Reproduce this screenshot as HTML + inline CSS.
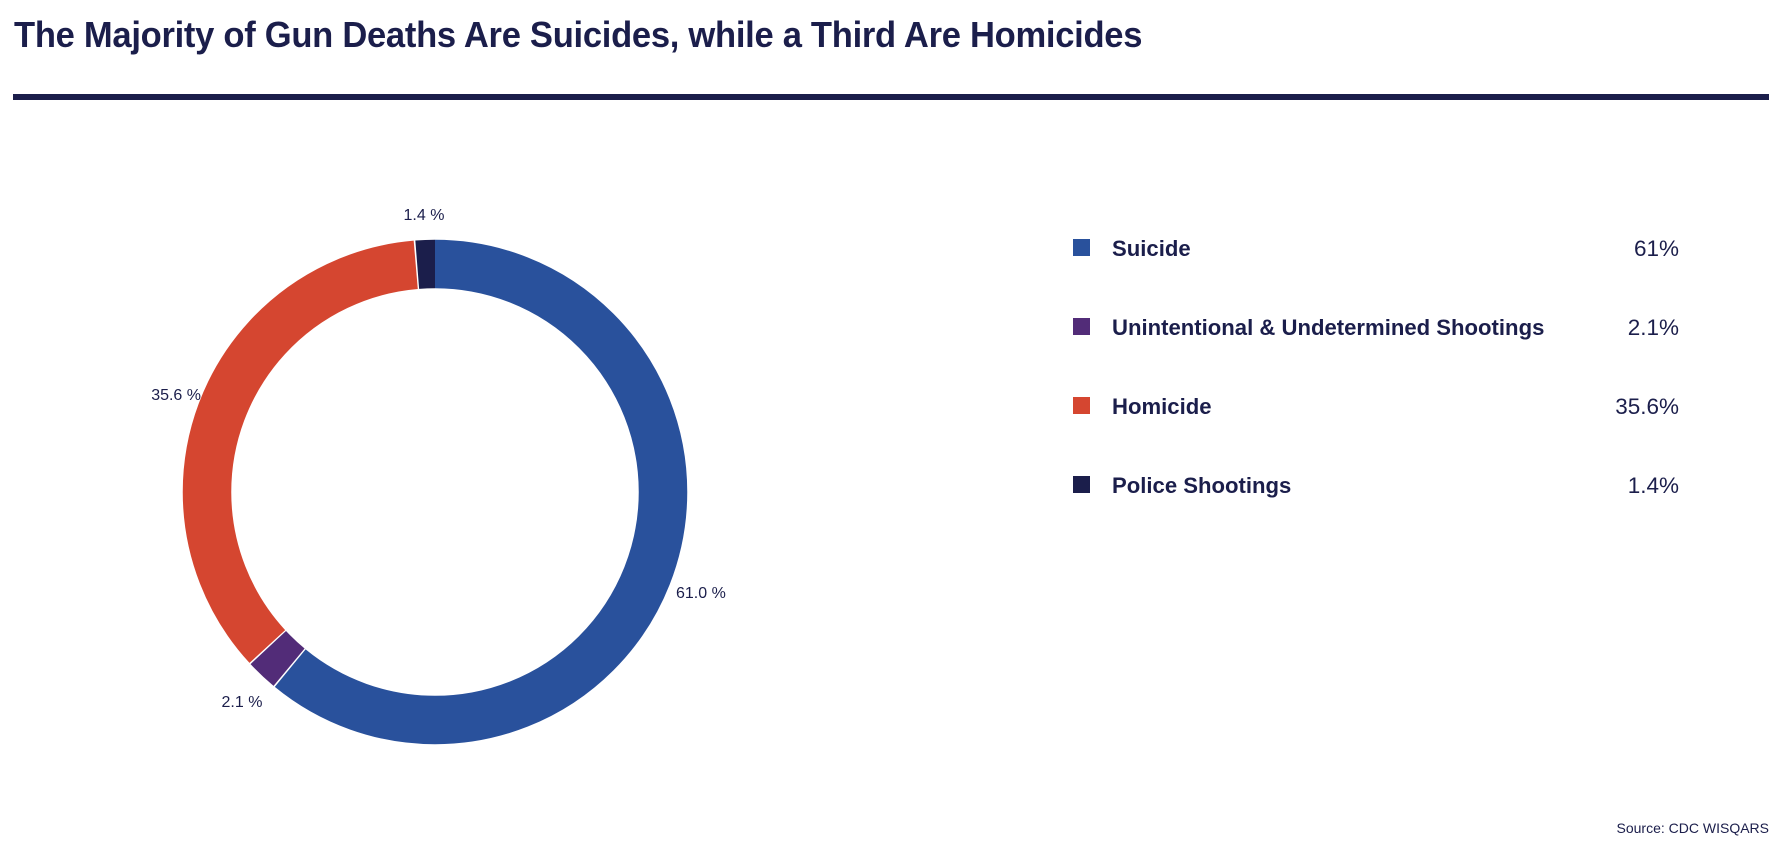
<!DOCTYPE html>
<html><head><meta charset="utf-8"><style>
html,body{margin:0;padding:0;background:#fff;width:1783px;height:862px;overflow:hidden;font-family:"Liberation Sans",sans-serif;color:#1b1e4b}
.t{position:absolute;left:14px;top:14px;font-size:36px;font-weight:bold;white-space:nowrap;transform-origin:0 0;transform:scaleX(0.96);letter-spacing:-0.3px}
.rule{position:absolute;left:13px;top:94px;width:1756px;height:6px;background:#1b1e4b}
.lg{position:absolute;left:1073px;width:606px;height:24px;font-size:22px;font-weight:bold}
.lg .sq{position:absolute;left:0;top:3px;width:17px;height:17px}
.lg .lb{position:absolute;left:39px;top:0;white-space:nowrap;transform-origin:0 0;transform:scaleX(1.005)}
.lg .v{position:absolute;right:0;top:0;font-weight:normal;font-size:22.5px}
.src{position:absolute;right:14px;top:820px;font-size:14px}
</style></head><body>
<div class="t">The Majority of Gun Deaths Are Suicides, while a Third Are Homicides</div>
<div class="rule"></div>
<svg width="1783" height="862" style="position:absolute;left:0;top:0">
<g transform="rotate(-90 435 492)" fill="none" stroke-width="48.5">
<circle cx="435" cy="492" r="228" stroke="#29519c" stroke-dasharray="873 2000" stroke-dashoffset="0"/>
<circle cx="435" cy="492" r="228" stroke="#522c78" stroke-dasharray="28.6 2000" stroke-dashoffset="-874.5"/>
<circle cx="435" cy="492" r="228" stroke="#d54630" stroke-dasharray="508.5 2000" stroke-dashoffset="-904.5"/>
<circle cx="435" cy="492" r="228" stroke="#1b1e4b" stroke-dasharray="18.6 2000" stroke-dashoffset="-1414.5"/>
</g>
<g font-size="16" fill="#1b1e4b" font-family="Liberation Sans, sans-serif">
<text x="424" y="220" text-anchor="middle">1.4 %</text>
<text x="201" y="400" text-anchor="end">35.6 %</text>
<text x="676" y="598">61.0 %</text>
<text x="242" y="707" text-anchor="middle">2.1 %</text>
</g>
</svg>
<div class="lg" style="top:236px"><div class="sq" style="background:#29519c"></div><div class="lb">Suicide</div><div class="v">61%</div></div>
<div class="lg" style="top:315px"><div class="sq" style="background:#522c78"></div><div class="lb">Unintentional &amp; Undetermined Shootings</div><div class="v">2.1%</div></div>
<div class="lg" style="top:394px"><div class="sq" style="background:#d54630"></div><div class="lb">Homicide</div><div class="v">35.6%</div></div>
<div class="lg" style="top:473px"><div class="sq" style="background:#1b1e4b"></div><div class="lb">Police Shootings</div><div class="v">1.4%</div></div>
<div class="src">Source: CDC WISQARS</div>
</body></html>
